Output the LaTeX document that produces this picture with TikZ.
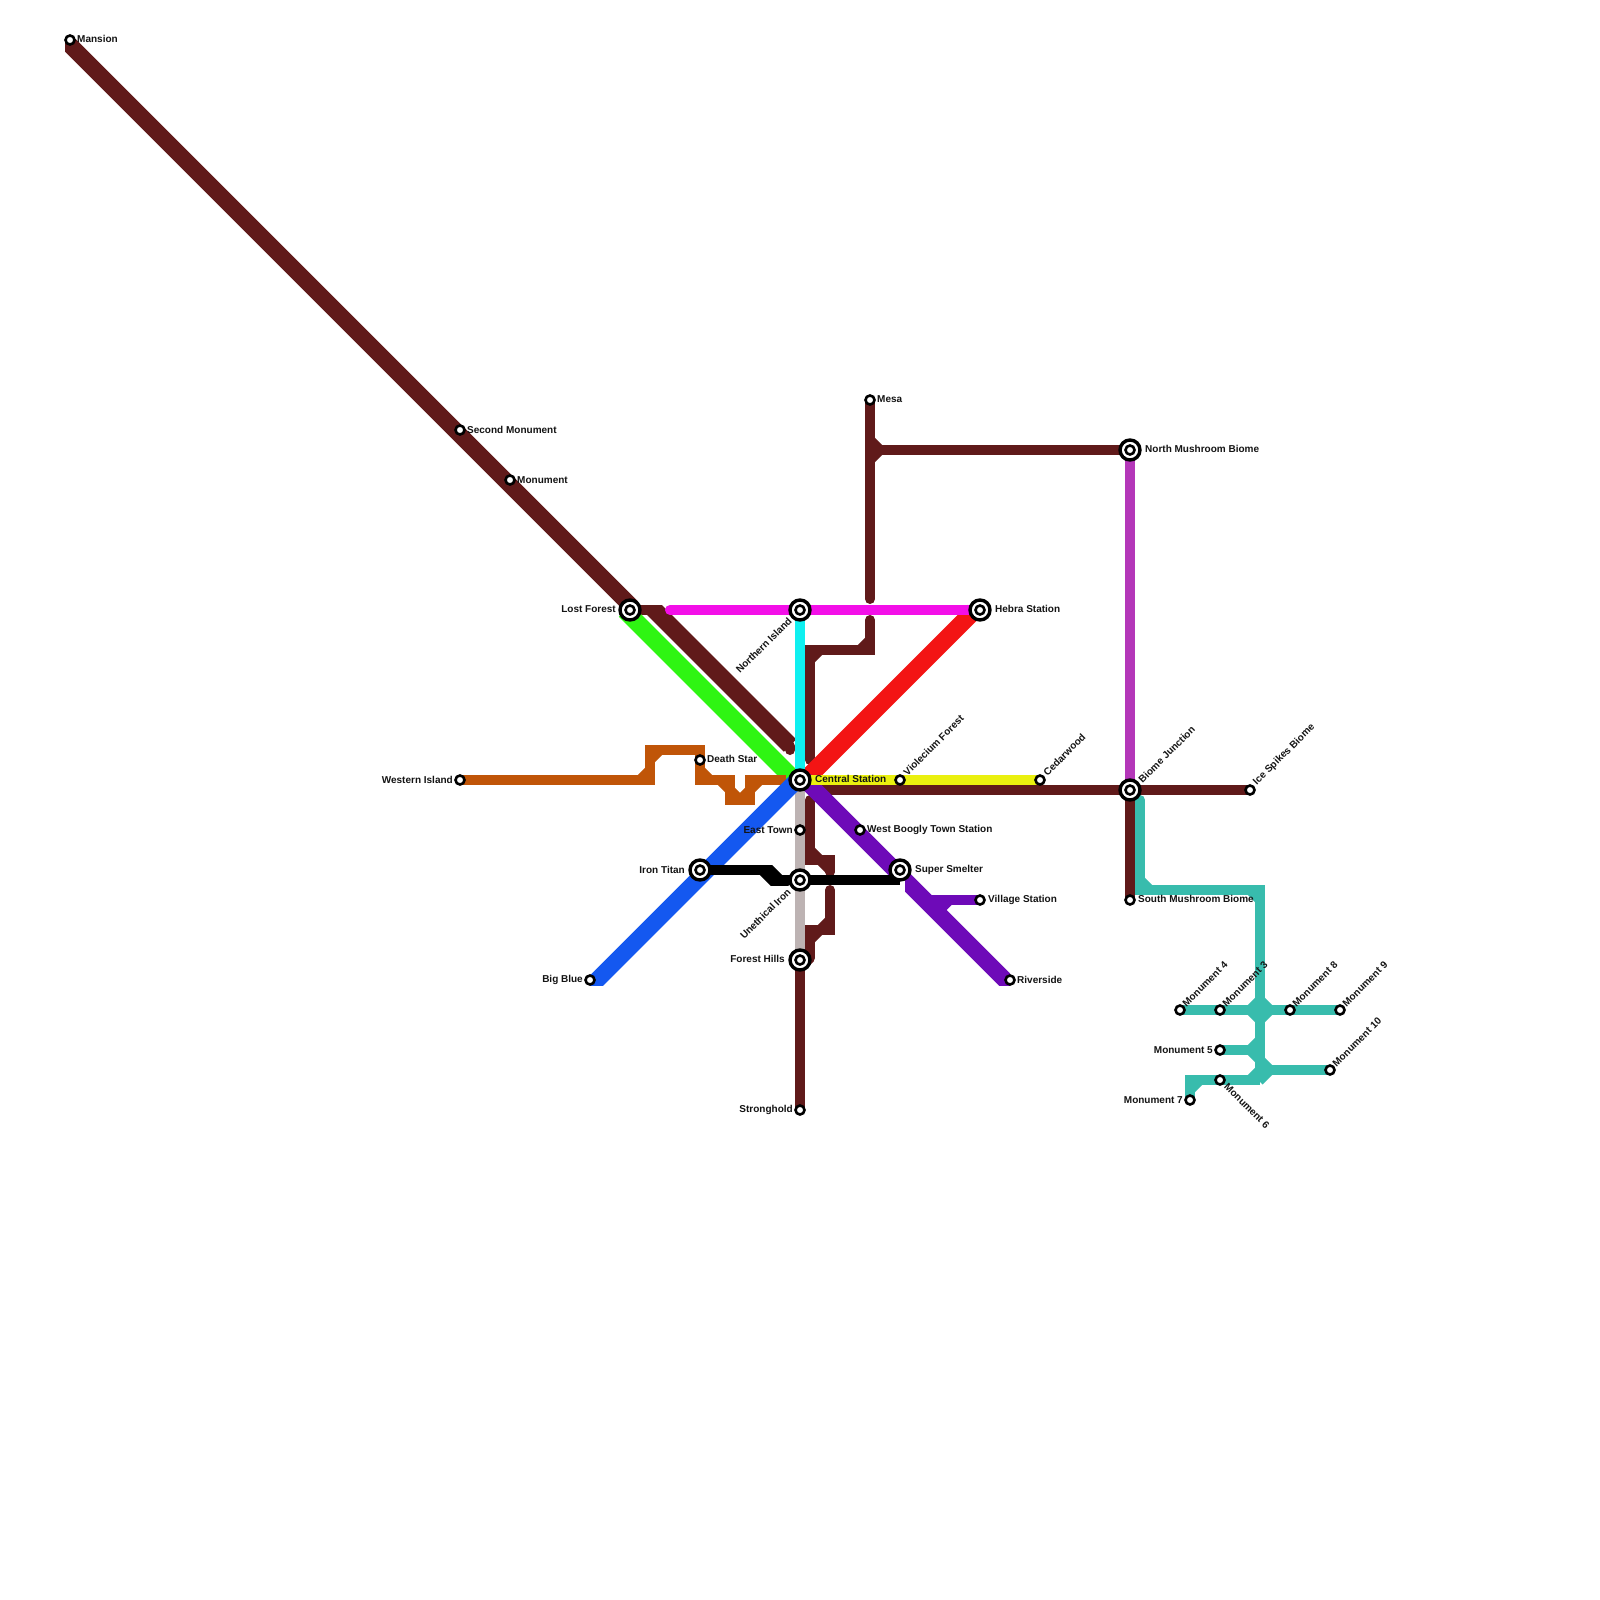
\documentclass[tikz,border=0pt]{standalone}
\usepackage{fontspec}
\setmainfont{Liberation Sans}
\pgfdeclarelayer{lines}
\pgfsetlayers{lines,main}
\definecolor{cBrown}{HTML}{601A1A}
\definecolor{cTeal}{HTML}{38BCAD}
\definecolor{cPurple}{HTML}{6E0AB8}
\definecolor{cBlue}{HTML}{1458F0}
\definecolor{cGreen}{HTML}{2FF512}
\definecolor{cRed}{HTML}{F31414}
\definecolor{cMagenta}{HTML}{F30FE8}
\definecolor{cCyan}{HTML}{0FF0F0}
\definecolor{cYellow}{HTML}{EAF00F}
\definecolor{cOrange}{HTML}{C05508}
\definecolor{cGray}{HTML}{BDB3B3}
\definecolor{cPink}{HTML}{B437B9}
\tikzset{
  stn/.style={circle,draw=black,fill=white,line width=2.6pt,minimum size=9pt,inner sep=0pt},
  hub/.style={circle,draw=black,fill=white,line width=3.4pt,minimum size=20pt,inner sep=0pt,
    path picture={\draw[black,fill=white,line width=2.6pt] (path picture bounding box.center) circle (4.5pt);}},
  lab/.style={inner sep=0pt,font=\fontsize{10}{10}\selectfont\bfseries,text=black!92},
  st/.style={line width=10pt,line join=miter,line cap=butt},
  dg/.style={line width=10pt,line cap=butt},
  dla/.style={line width=16.6pt,line cap=butt},
  dlb/.style={line width=17.4pt,line cap=butt},
  rc/.style={line width=10pt,line cap=round,line join=miter}
}
\begin{document}
\begin{tikzpicture}[x=1pt,y=-1pt]
\useasboundingbox (0,0) rectangle (1600,1600);
% stations
\node[stn] (mansion) at (70,40) {};
\node[stn] (second) at (460,430) {};
\node[stn] (monument) at (510,480) {};
\node[hub] (lost) at (630,610) {};
\node[hub] (northern) at (800,610) {};
\node[hub] (hebra) at (980,610) {};
\node[hub] (central) at (800,780) {};
\node[stn] (death) at (700,760) {};
\node[stn] (western) at (460,780) {};
\node[stn] (east) at (800,830) {};
\node[hub] (iron) at (700,870) {};
\node[hub] (unethical) at (800,880) {};
\node[hub] (forest) at (800,960) {};
\node[stn] (bigblue) at (590,980) {};
\node[stn] (stronghold) at (800,1110) {};
\node[stn] (mesa) at (870,400) {};
\node[hub] (northm) at (1130,450) {};
\node[hub] (biome) at (1130,790) {};
\node[stn] (ice) at (1250,790) {};
\node[stn] (southm) at (1130,900) {};
\node[stn] (violecium) at (900,780) {};
\node[stn] (cedar) at (1040,780) {};
\node[stn] (boogly) at (860,830) {};
\node[hub] (smelter) at (900,870) {};
\node[stn] (village) at (980,900) {};
\node[stn] (riverside) at (1010,980) {};
\node[stn] (mfour) at (1180,1010) {};
\node[stn] (mthree) at (1220,1010) {};
\node[stn] (meight) at (1290,1010) {};
\node[stn] (mnine) at (1340,1010) {};
\node[stn] (mfive) at (1220,1050) {};
\node[stn] (msix) at (1220,1080) {};
\node[stn] (mseven) at (1190,1100) {};
\node[stn] (mten) at (1330,1070) {};
% labels
\node[lab,anchor=west] (tmansion) at (77,39) {Mansion};
\node[lab,anchor=west] (tsecond) at (467,430) {Second Monument};
\node[lab,anchor=west] (tmonument) at (517,480) {Monument};
\node[lab,anchor=east] (tlost) at (616,609) {Lost Forest};
\node[lab,anchor=west] (thebra) at (995,609) {Hebra Station};
\node[lab,anchor=east,rotate=45] (tnorthern) at (790,619) {Northern Island};
\node[lab,anchor=west] (tdeath) at (707,759) {Death Star};
\node[lab,anchor=west] (tcentral) at (815,779) {Central Station};
\node[lab,anchor=west,rotate=45] (tviolecium) at (905,774) {Violecium Forest};
\node[lab,anchor=west,rotate=45] (tcedar) at (1045,774) {Cedarwood};
\node[lab,anchor=west] (tboogly) at (867,830) {West Boogly Town Station};
\node[lab,anchor=east] (teast) at (793,830) {East Town};
\node[lab,anchor=east] (tiron) at (685,870) {Iron Titan};
\node[lab,anchor=west] (tsmelter) at (915,870) {Super Smelter};
\node[lab,anchor=west] (tvillage) at (988,900) {Village Station};
\node[lab,anchor=west] (triverside) at (1017,980) {Riverside};
\node[lab,anchor=east,rotate=45] (tunethical) at (789,890) {Unethical Iron};
\node[lab,anchor=east] (tforest) at (785,959) {Forest Hills};
\node[lab,anchor=east] (tbigblue) at (583,980) {Big Blue};
\node[lab,anchor=east] (tstronghold) at (793,1110) {Stronghold};
\node[lab,anchor=east] (twestern) at (453,780) {Western Island};
\node[lab,anchor=west] (tmesa) at (877,399) {Mesa};
\node[lab,anchor=west] (tnorthm) at (1145,449) {North Mushroom Biome};
\node[lab,anchor=west,rotate=45] (tbiome) at (1140,781) {Biome Junction};
\node[lab,anchor=west,rotate=45] (tice) at (1255,784) {Ice Spikes Biome};
\node[lab,anchor=west] (tsouthm) at (1138,899) {South Mushroom Biome};
\node[lab,anchor=west,rotate=45] (tmfour) at (1184,1005) {Monument 4};
\node[lab,anchor=west,rotate=45] (tmthree) at (1224,1005) {Monument 3};
\node[lab,anchor=west,rotate=45] (tmeight) at (1294,1005) {Monument 8};
\node[lab,anchor=west,rotate=45] (tmnine) at (1344,1005) {Monument 9};
\node[lab,anchor=west,rotate=45] (tmten) at (1334,1065) {Monument 10};
\node[lab,anchor=east] (tmfive) at (1213,1050) {Monument 5};
\node[lab,anchor=west,rotate=-45] (tmsix) at (1226,1085) {Monument 6};
\node[lab,anchor=east] (tmseven) at (1183,1100) {Monument 7};
\begin{pgfonlayer}{lines}
\fill[white] (0,0) rectangle (1600,1600);
% gray
\draw[st,cGray] (central.center) -- (forest.center);
% brown lower pieces
\draw[st,cBrown] (forest.center) -- (stronghold.center);
\draw[rc,cBrown] (810,800) -- (810,860) -- (830,860) -- (830,872);
\draw[dg,cBrown] (810,850) -- (820,860);
\draw[dg,cBrown] (820,860) -- (830,870);
\draw[rc,cBrown] (830,890) -- (830,930) -- (810,930) -- (810,958);
\draw[dg,cBrown] (820,930) -- (830,920);
\draw[dg,cBrown] (810,940) -- (820,930);
\draw[dg,cBrown] (810,958) -- (800,968);
% brown upper pieces
\draw[rc,cBrown] (810,760) -- (810,650) -- (870,650) -- (870,620);
\draw[dg,cBrown] (810,660) -- (820,650);
\draw[dg,cBrown] (860,650) -- (870,640);
\draw[rc,cBrown] (mesa.center) -- (870,599);
\draw[st,cBrown] (870,450) -- (northm.center);
\draw[dg,cBrown] (870,440) -- (880,450);
\draw[dg,cBrown] (870,460) -- (880,450);
% brown mansion line
\begin{scope}
\clip (65,40) rectangle (700,700);
\draw[dla,cBrown] (60,35) -- (632,607);
\end{scope}
\draw[st,cBrown] (lost.center) -- (660,610);
\begin{scope}
\clip (600,605) rectangle (795,760);
\draw[dlb,cBrown] (640,595.5) -- (790,745.5);
\end{scope}
\draw[rc,cBrown] (790,746) -- (790,750);
% brown horizontal
\draw[st,cBrown] (820,790) -- (ice.center);
\draw[st,cBrown] (biome.center) -- (southm.center);
% pink
\draw[st,cPink] (northm.center) -- (biome.center);
% red
\draw[dlb,cRed] (805,780) -- (974,611);
% magenta
\draw[rc,cMagenta] (670,610) -- (700,610);
\draw[st,cMagenta] (700,610) -- (northern.center) -- (hebra.center);
% green
\draw[dlb,cGreen] (625,610.5) -- (795,780.5);
% cyan
\draw[st,cCyan] (northern.center) -- (central.center);
% orange
\draw[st,cOrange] (western.center) -- (650,780) -- (650,750) -- (700,750) -- (700,780) -- (730,780) -- (730,800) -- (750,800) -- (750,780) -- (786,780);
\draw[dg,cOrange] (640,780) -- (650,770);
\draw[dg,cOrange] (650,760) -- (660,750);
\draw[dg,cOrange] (700,770) -- (710,780);
\draw[dg,cOrange] (720,780) -- (730,790);
\draw[dg,cOrange] (730,790) -- (740,800);
\draw[dg,cOrange] (740,800) -- (750,790);
\draw[dg,cOrange] (750,790) -- (760,780);
% blue and purple
\begin{scope}
\clip (590,0) rectangle (1010,985);
\draw[dla,cBlue] (797,780) -- (587,990);
\end{scope}
\draw[dla,cPurple] (805,780) -- (897,872);
\begin{scope}
\clip (905,860) rectangle (1010,985);
\draw[dla,cPurple] (895,870) -- (1015,990);
\end{scope}
\draw[st,cPurple] (932,900) -- (village.center);
\fill[cPurple] (935,905) -- (951.7,905) -- (946.7,910) -- (940,910) -- cycle;
% yellow
\draw[st,cYellow] (central.center) -- (cedar.center);
% black
\draw[st,black] (iron.center) -- (771,870);
\begin{scope}
\clip (700,865) rectangle (800,885);
\draw[line width=15.6pt,black] (755,859) -- (785,889);
\end{scope}
\draw[st,black] (770,880) -- (unethical.center) -- (900,880);
% teal
\draw[rc,cTeal] (1140,800) -- (1140,803);
\draw[st,cTeal] (1140,802) -- (1140,890) -- (1260,890) -- (1260,1075);
\draw[dg,cTeal] (1140,880) -- (1150,890);
\draw[dg,cTeal] (1250,890) -- (1260,900);
\draw[st,cTeal] (mfour.center) -- (mnine.center);
\draw[dg,cTeal] (1250,1010) -- (1260,1000);
\draw[dg,cTeal] (1260,1000) -- (1270,1010);
\draw[dg,cTeal] (1250,1010) -- (1260,1020);
\draw[dg,cTeal] (1260,1020) -- (1270,1010);
\draw[st,cTeal] (mfive.center) -- (1260,1050);
\draw[dg,cTeal] (1250,1050) -- (1260,1040);
\draw[dg,cTeal] (1250,1050) -- (1260,1060);
\draw[st,cTeal] (1260,1070) -- (mten.center);
\draw[dg,cTeal] (1260,1060) -- (1270,1070);
\draw[dg,cTeal] (1271,1069) -- (1259,1081);
\draw[dg,cTeal] (1250,1080) -- (1260,1070);
\draw[st,cTeal] (mseven.center) -- (1190,1080) -- (1260,1080);
\draw[dg,cTeal] (1190,1090) -- (1200,1080);
\end{pgfonlayer}
\end{tikzpicture}
\end{document}
